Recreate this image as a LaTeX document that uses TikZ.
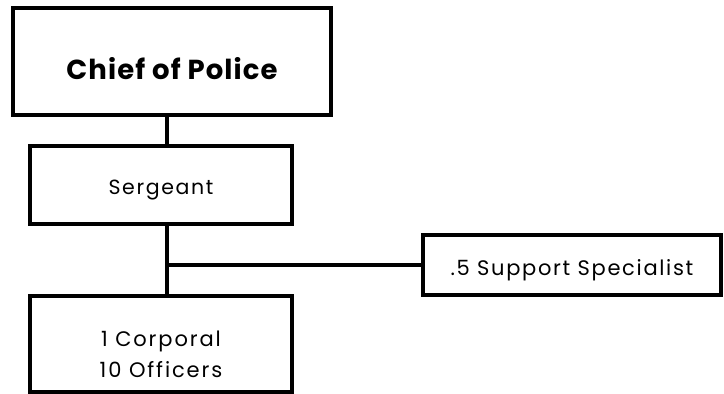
\documentclass[tikz,border=0pt]{standalone}
\usepackage{fontspec}
\setmainfont{Poppins}
\begin{document}
\begin{tikzpicture}[x=1pt,y=-1pt,
  box/.style={draw=black,line width=4pt,rectangle,inner sep=0pt},
  lbl/.style={inner sep=0pt,align=center,font=\fontsize{21}{31}\selectfont},
  conn/.style={draw=black,line width=4pt}]
\useasboundingbox (0,0) rectangle (724,394);
\node[box,minimum width=317.5pt,minimum height=107pt] (chief) at (172,61.5) {};
\node[box,minimum width=262pt,minimum height=78pt] (serg) at (161,185) {};
\node[box,minimum width=262pt,minimum height=96pt] (corp) at (161,344) {};
\node[box,minimum width=298pt,minimum height=60pt] (supp) at (572,265) {};
\node[lbl,font=\bfseries\fontsize{27.5}{31}\selectfont] (chieft) at ([yshift=-7pt]chief.center) {\addfontfeature{LetterSpace=4}Chief of Police};
\node[lbl,font=\fontsize{20.5}{31}\selectfont] (sergt) at ([yshift=-5pt]serg.center) {\addfontfeature{LetterSpace=8}Sergeant};
\node[lbl] (corpt) at ([yshift=-10pt]corp.center) {\addfontfeature{LetterSpace=9}1 Corporal\\\addfontfeature{LetterSpace=9}10 Officers};
\node[lbl] (suppt) at ([yshift=-5pt]supp.center) {\addfontfeature{LetterSpace=8}.5 Support Specialist};
\coordinate (spine) at (167,265);
\draw[conn] (chief.south -| spine) -- (serg.north -| spine);
\draw[conn] (serg.south -| spine) -- (corp.north -| spine);
\draw[conn] (spine) -- (supp.west);
\end{tikzpicture}
\end{document}
